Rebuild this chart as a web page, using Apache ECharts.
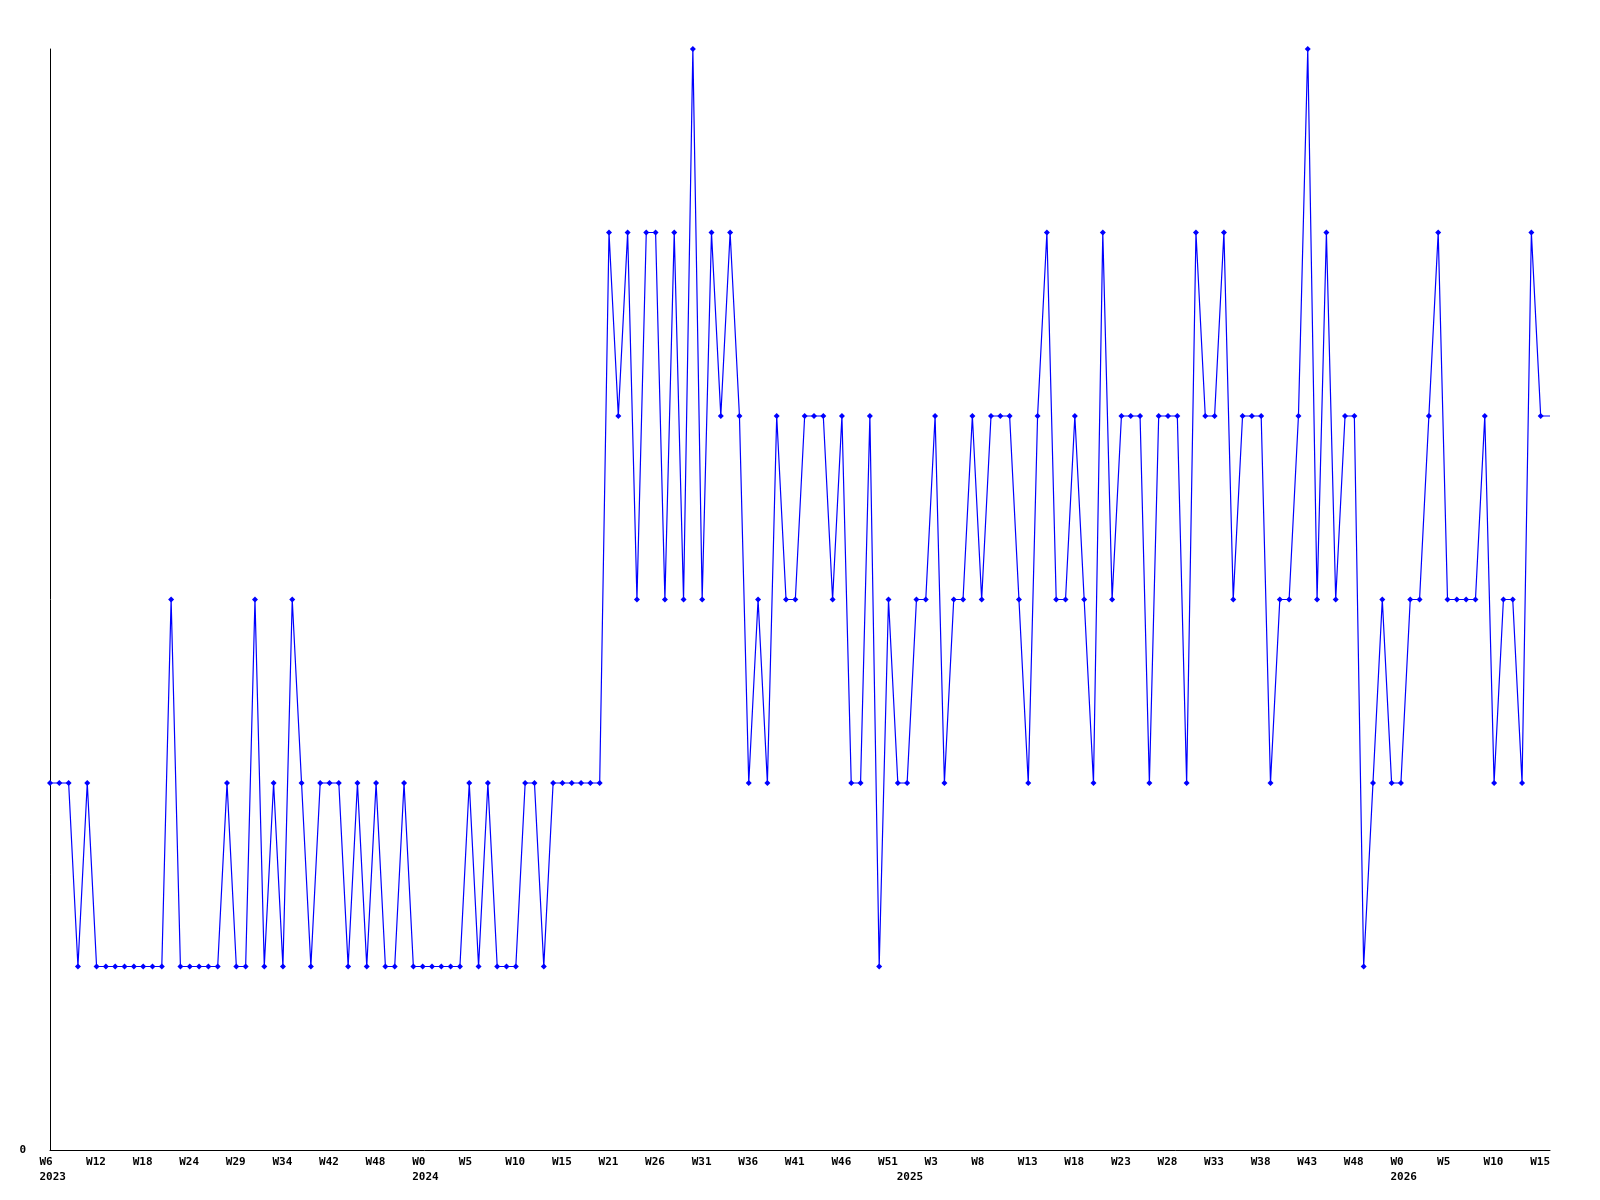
<!DOCTYPE html>
<html>
<head>
<meta charset="utf-8">
<script src="https://cdn.jsdelivr.net/npm/echarts@6/dist/echarts.min.js"></script>
<style>
html,body{margin:0;padding:0;background:#fff;}
#chart{width:1600px;height:1200px;}
</style>
</head>
<body>
<div id="chart"></div>
<script>
// Weekly values, one per point (162 points)
const values = [
  2,2,2,1,2,1,1,1,1,1,1,1,1,3,1,1,1,1,1,2,
  1,1,3,1,2,1,3,2,1,2,2,2,1,2,1,2,1,1,2,1,
  1,1,1,1,1,2,1,2,1,1,1,2,2,1,2,2,2,2,2,2,
  5,4,5,3,5,5,3,5,3,6,3,5,4,5,4,2,3,2,4,3,
  3,4,4,4,3,4,2,2,4,1,3,2,2,3,3,4,2,3,3,4,
  3,4,4,4,3,2,4,5,3,3,4,3,2,5,3,4,4,4,2,4,
  4,4,2,5,4,4,5,3,4,4,4,2,3,3,4,6,3,5,3,4,
  4,1,2,3,2,2,3,3,4,5,3,3,3,3,4,2,3,3,2,5,
  4,4
];
// Week tick labels, shown on every 5th point
const weekLabels = [
  'W6','W12','W18','W24','W29','W34','W42','W48','W0','W5','W10','W15',
  'W21','W26','W31','W36','W41','W46','W51','W3','W8','W13','W18','W23',
  'W28','W33','W38','W43','W48','W0','W5','W10','W15'
];
// Year labels and the point they sit under
const yearPoints = [0, 40, 92, 145];
const yearLabels = ['2023', '2024', '2025', '2026'];

const weekAt = values.map((_, i) => (i % 5 === 0 && weekLabels[i / 5] !== undefined) ? weekLabels[i / 5] : null);
const yearAt = values.map((_, i) => {
  const k = yearPoints.indexOf(i);
  return k >= 0 ? yearLabels[k] : null;
});
const categories = values.map((_, i) => {
  const parts = [];
  if (weekAt[i]) parts.push(weekAt[i]);
  if (yearAt[i]) parts.push(yearAt[i]);
  return parts.join(' ');
});

const FONT = 'DejaVu Sans Mono';
const lastIdx = values.length - 1;
const seriesData = values.map((v, i) => i === lastIdx ? { value: v, symbolSize: 0 } : v);

const chart = echarts.init(document.getElementById('chart'), null, { renderer: 'canvas' });
chart.setOption({
  animation: false,
  backgroundColor: '#ffffff',
  grid: { left: 50, right: 50, top: 49, bottom: 50, containLabel: false },
  xAxis: {
    type: 'category',
    data: categories,
    boundaryGap: false,
    axisLine: { show: true, lineStyle: { color: '#000', width: 1 } },
    axisTick: { show: false },
    splitLine: { show: false },
    axisLabel: {
      interval: (i) => weekAt[i] !== null || yearAt[i] !== null,
      formatter: (v, i) => {
        const w = weekAt[i] ? weekAt[i] : ' ';
        const y = yearAt[i];
        return y ? '{a|' + w + '}\n{a|' + y + '}' : '{a|' + w + '}';
      },
      align: 'center',
      width: 21,
      overflow: 'none',
      margin: 5,
      color: '#000',
      fontFamily: FONT,
      fontSize: 11,
      fontWeight: 'bold',
      lineHeight: 15,
      rich: {
        a: { align: 'left', color: '#000', fontFamily: FONT, fontSize: 11, fontWeight: 'bold', lineHeight: 15 }
      }
    }
  },
  yAxis: {
    type: 'value',
    min: 0,
    max: 6,
    interval: 6,
    axisLine: { show: true, lineStyle: { color: '#000', width: 1 } },
    axisTick: { show: false },
    splitLine: { show: false },
    axisLabel: {
      formatter: (v) => v === 0 ? '0' : '',
      margin: 24,
      color: '#000',
      fontFamily: FONT,
      fontSize: 11,
      fontWeight: 'bold'
    }
  },
  series: [{
    type: 'line',
    data: seriesData,
    symbol: 'diamond',
    symbolSize: 6,
    showAllSymbol: true,
    lineStyle: { color: '#0000ff', width: 1.2 },
    itemStyle: { color: '#0000ff' },
    emphasis: { disabled: true }
  }]
});
</script>
</body>
</html>
